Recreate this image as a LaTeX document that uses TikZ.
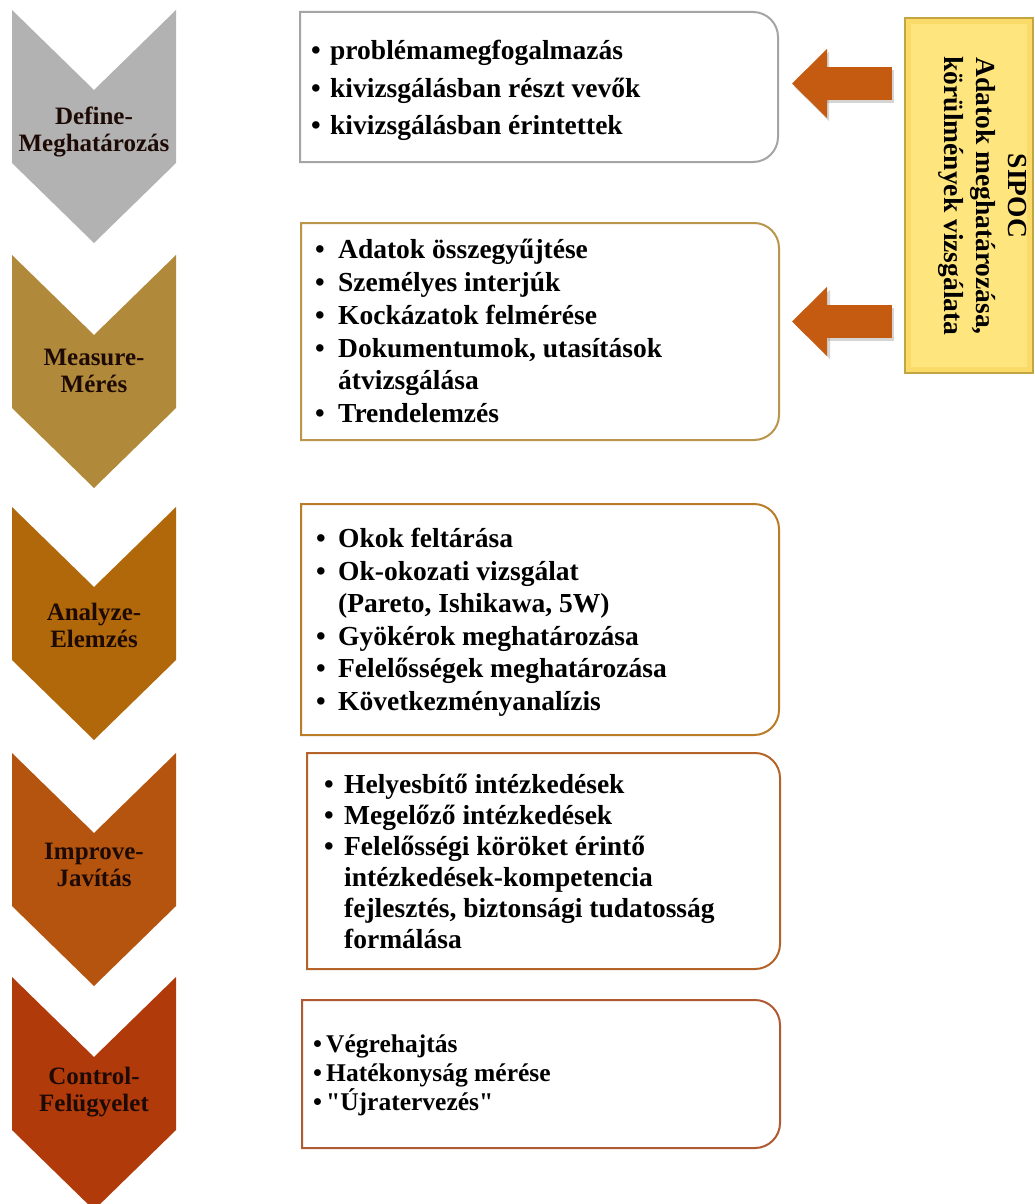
\documentclass[tikz,border=0pt]{standalone}
\usepackage{fontspec}
\setmainfont{Liberation Serif}[Ligatures=TeXOff]
\usetikzlibrary{arrows.meta}
\definecolor{cDef}{RGB}{178,178,178}
\definecolor{cMea}{RGB}{176,138,58}
\definecolor{cAna}{RGB}{176,104,10}
\definecolor{cImp}{RGB}{180,84,14}
\definecolor{cCon}{RGB}{176,58,10}
\definecolor{bDef}{RGB}{165,165,165}
\definecolor{bMea}{RGB}{185,150,75}
\definecolor{bAna}{RGB}{185,125,40}
\definecolor{bImp}{RGB}{180,100,40}
\definecolor{bCon}{RGB}{175,90,50}
\definecolor{txtdark}{RGB}{30,10,5}
\definecolor{arrowc}{RGB}{197,90,17}
\definecolor{shadowc}{RGB}{150,150,150}
\definecolor{sipocY}{RGB}{255,229,125}
\definecolor{sipocB}{RGB}{195,165,65}
\definecolor{sipocL}{RGB}{250,218,105}
\newlength\bgap
\newcommand\itb{\makebox[\bgap][l]{•}}
\newcommand\itn{\hspace*{\bgap}}
\newcommand\phasechev[2]{\fill[#2] (12,#1) -- (94,#1+80) -- (176,#1) -- (176,#1+153) -- (94,#1+233) -- (12,#1+153) -- cycle;}
\newcommand\phasebox[5]{\draw[line width=2pt,#5] (#1,#2) -- ({#3-25},#2) .. controls ({#3-11.2},#2) and (#3,{#2+11.2}) .. (#3,{#2+25}) -- (#3,{#4-25}) .. controls (#3,{#4-11.2}) and ({#3-11.2},#4) .. ({#3-25},#4) -- (#1,#4) -- cycle;}
\begin{document}
\begin{tikzpicture}[x=1pt,y=-1pt,
  chevtext/.style={font=\fontsize{25}{27}\selectfont\bfseries, align=center, text=txtdark, inner sep=0pt},
  bitem/.style={anchor=base west, inner sep=0pt, font=\fontsize{27.5}{33}\selectfont\bfseries},
  citem/.style={anchor=base west, inner sep=0pt, font=\fontsize{25.5}{30}\selectfont\bfseries},
  bigarrow/.style={draw=arrowc, line width=33pt, -{Triangle[length=35pt,width=67pt]}},
]
\fill[white] (0,0) rectangle (1035,1204);
\useasboundingbox (0,0) rectangle (1035,1204);

% chevrons
\phasechev{10}{cDef}
\node[chevtext] (defL) at (94,132) {Define-\\Meghatározás};
\phasechev{255}{cMea}
\node[chevtext] (meaL) at (94,371) {Measure-\\Mérés};
\phasechev{507}{cAna}
\node[chevtext] (anaL) at (94,625) {Analyze-\\Elemzés};
\phasechev{753}{cImp}
\node[chevtext] (impL) at (94,865) {Improve-\\Javítás};
\phasechev{977}{cCon}
\node[chevtext] (conL) at (94,1092) {Control-\\Felügyelet};

% boxes
\phasebox{300}{12}{778}{162}{draw=bDef}
\phasebox{301}{223}{779}{440}{draw=bMea}
\phasebox{301}{504}{779}{735}{draw=bAna}
\phasebox{307}{753}{780}{969}{draw=bImp}
\phasebox{302}{1000}{780}{1148}{draw=bCon}

\setlength\bgap{19pt}
\foreach \yy/\txt [count=\i] in {60/{\itb problémamegfogalmazás}, 97.5/{\itb kivizsgálásban részt vevők}, 135/{\itb kivizsgálásban érintettek}}
  \node[bitem] (def\i) at (311,\yy) {\txt};

\setlength\bgap{23pt}
\foreach \yy/\txt [count=\i] in {258/{\itb Adatok összegyűjtése}, 291/{\itb Személyes interjúk}, 324/{\itb Kockázatok felmérése}, 357/{\itb Dokumentumok, utasítások}, 389/{\itn átvizsgálása}, 422/{\itb Trendelemzés}}
  \node[bitem] (mea\i) at (315,\yy) {\txt};

\setlength\bgap{22pt}
\foreach \yy/\txt [count=\i] in {547/{\itb Okok feltárása}, 580/{\itb Ok-okozati vizsgálat}, 612/{\itn (Pareto, Ishikawa, 5W)}, 645/{\itb Gyökérok meghatározása}, 677/{\itb Felelősségek meghatározása}, 710/{\itb Következményanalízis}}
  \node[bitem] (ana\i) at (316,\yy) {\txt};

\setlength\bgap{20pt}
\foreach \yy/\txt [count=\i] in {793/{\itb Helyesbítő intézkedések}, 824/{\itb Megelőző intézkedések}, 855/{\itb Felelősségi köröket érintő}, 886/{\itn intézkedések-kompetencia}, 917/{\itn fejlesztés, biztonsági tudatosság}, 948/{\itn formálása}}
  \node[bitem] (imp\i) at (324,\yy) {\txt};

\setlength\bgap{13pt}
\foreach \yy/\txt [count=\i] in {1052/{\itb Végrehajtás}, 1081/{\itb Hatékonyság mérése}, 1110/{\itb "Újratervezés"}}
  \node[citem] (con\i) at (313,\yy) {\txt};

% SIPOC box
\node[draw=sipocB, fill=sipocY, line width=1.5pt, minimum width=128pt, minimum height=355pt, inner sep=0pt] (sipoc) at (969,195.5) {};
\draw[sipocL, line width=5pt] ([shift={(4,4)}]sipoc.north west) rectangle ([shift={(-4,-4)}]sipoc.south east);
\node[rotate=-90, align=center, inner sep=0pt, font=\fontsize{27.5}{32}\selectfont\bfseries] (sipocT) at (983,196) {SIPOC\\Adatok meghatározása,\\körülmények vizsgálata};

% arrows
\coordinate (defE) at (778,83.5);
\coordinate (meaE) at (779,321.5);
\coordinate (defS) at (sipoc.west |- defE);
\coordinate (meaS) at (sipoc.west |- meaE);
\draw[bigarrow, draw=shadowc, opacity=0.4, shorten <=12pt, shorten >=14pt] ([shift={(2,3)}]defS) -- ([shift={(2,3)}]defE);
\draw[bigarrow, draw=shadowc, opacity=0.4, shorten <=12pt, shorten >=14pt] ([shift={(2,3)}]meaS) -- ([shift={(2,3)}]meaE);
\draw[bigarrow, shorten <=12pt, shorten >=14pt] (defS) -- (defE);
\draw[bigarrow, shorten <=12pt, shorten >=13pt] (meaS) -- (meaE);
\end{tikzpicture}
\end{document}
